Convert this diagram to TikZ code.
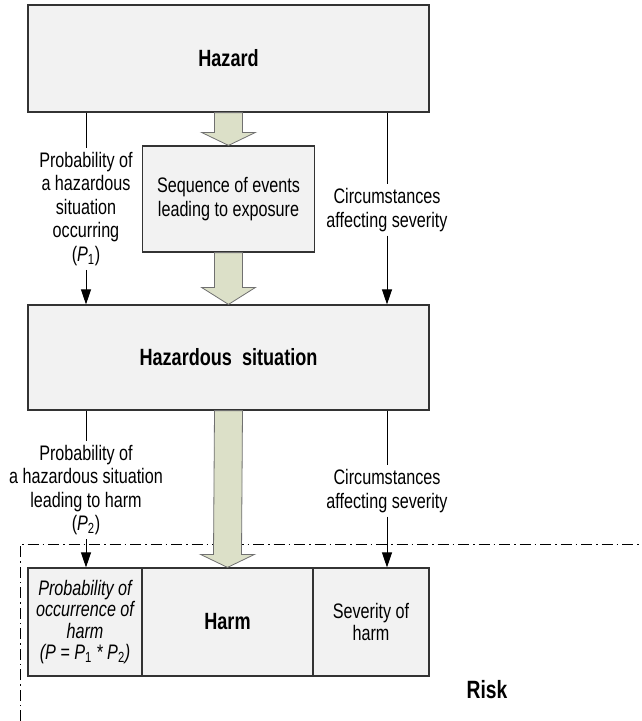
\documentclass[tikz,border=0pt]{standalone}
\usepackage{fontspec}
\setmainfont{Liberation Sans}[FakeStretch=0.77]
\usetikzlibrary{arrows.meta,calc}

\definecolor{boxfill}{HTML}{F2F2F2}
\definecolor{arrowfill}{HTML}{DCE0C8}
\definecolor{arrowline}{HTML}{707070}
\definecolor{boxline}{HTML}{333333}

% wide hollow arrow between two points (shaft start, tip)
\newcommand{\blockarrow}[3][13]{%
  \draw[blockarrow] ($(#2)+(-14,0)$) -- ($(#3)+(-14,-#1)$) -- ($(#3)+(-27,-#1)$)
    -- (#3) -- ($(#3)+(27,-#1)$) -- ($(#3)+(14,-#1)$) -- ($(#2)+(14,0)$) -- cycle;}

\begin{document}
\begin{tikzpicture}[x=1pt,y=-1pt,
    every node/.style={font=\fontsize{21}{23.5}\selectfont},
    box/.style={draw=boxline,line width=1.2pt,fill=boxfill,align=center,inner sep=0pt},
    boldtext/.style={font=\bfseries\fontsize{23.5}{24}\selectfont},
    label/.style={align=center,inner sep=4pt},
    blockarrow/.style={draw=arrowline,line width=0.8pt,fill=arrowfill},
    thin/.style={line width=0.9pt},
    tip/.style={thin,-{Triangle[width=10pt,length=15pt]}},
    riskline/.style={line width=0.9pt,dash pattern=on 11pt off 4pt on 1.5pt off 4pt}]
  \useasboundingbox (0,0) rectangle (641,721);

  % risk frame
  \coordinate (riskbottom) at (20,721);
  \coordinate (riskcorner) at (20,544);
  \coordinate (riskright) at (641,544);
  \draw[riskline] (riskbottom) -- (riskcorner) -- (riskright);

  % boxes
  \node[box,boldtext,minimum width=401pt,minimum height=107pt] (hazard) at (228.5,58.5) {Hazard};
  \node[box,minimum width=172pt,minimum height=106pt] (sequence) at (228.5,199)
    {Sequence of events\\leading to exposure};
  \node[box,boldtext,minimum width=401pt,minimum height=105pt] (situation) at (228.5,357.5)
    {Hazardous\ \ situation};
  \node[box,minimum width=114pt,minimum height=108pt,
    font=\itshape\fontsize{21}{21.5}\selectfont] (probability) at (85,622)
    {Probability of\\occurrence of\\harm\\(P = P\textsubscript{\upshape 1} * P\textsubscript{\upshape 2})};
  \node[box,boldtext,minimum width=171pt,minimum height=108pt] (harm) at (227.5,622) {Harm};
  \node[box,minimum width=116pt,minimum height=108pt,
    font=\fontsize{21}{21.5}\selectfont] (severity) at (371,622) {Severity of\\harm};
  \node[font=\bfseries\fontsize{25}{25}\selectfont] (risk) at (487,690) {Risk};

  % labels
  \node[label] (p1) at (86,209)
    {Probability of\\a hazardous\\situation\\occurring\\(\textit{P}\textsubscript{1})};
  \node[label] (sev1) at (387,210) {Circumstances\\affecting severity};
  \node[label] (p2) at (86,490)
    {Probability of\\a hazardous situation\\leading to harm\\(\textit{P}\textsubscript{2})};
  \node[label] (sev2) at (387,491) {Circumstances\\affecting severity};

  % connectors
  \draw[thin] (hazard.south -| p1) -- (p1.north);
  \draw[tip] (p1.south) -- (situation.north -| p1);
  \draw[thin] (hazard.south -| sev1) -- (sev1.north);
  \draw[tip] (sev1.south) -- (situation.north -| sev1);
  \draw[thin] (situation.south -| p2) -- (p2.north);
  \draw[tip] (p2.south) -- (probability.north -| p2);
  \draw[thin] (situation.south -| sev2) -- (sev2.north);
  \draw[tip] (sev2.south) -- (severity.north -| sev2);

  % wide arrows
  \blockarrow{hazard.south}{sequence.north}
  \blockarrow[17]{sequence.south}{situation.north}
  \blockarrow{situation.south}{harm.north}
\end{tikzpicture}
\end{document}
